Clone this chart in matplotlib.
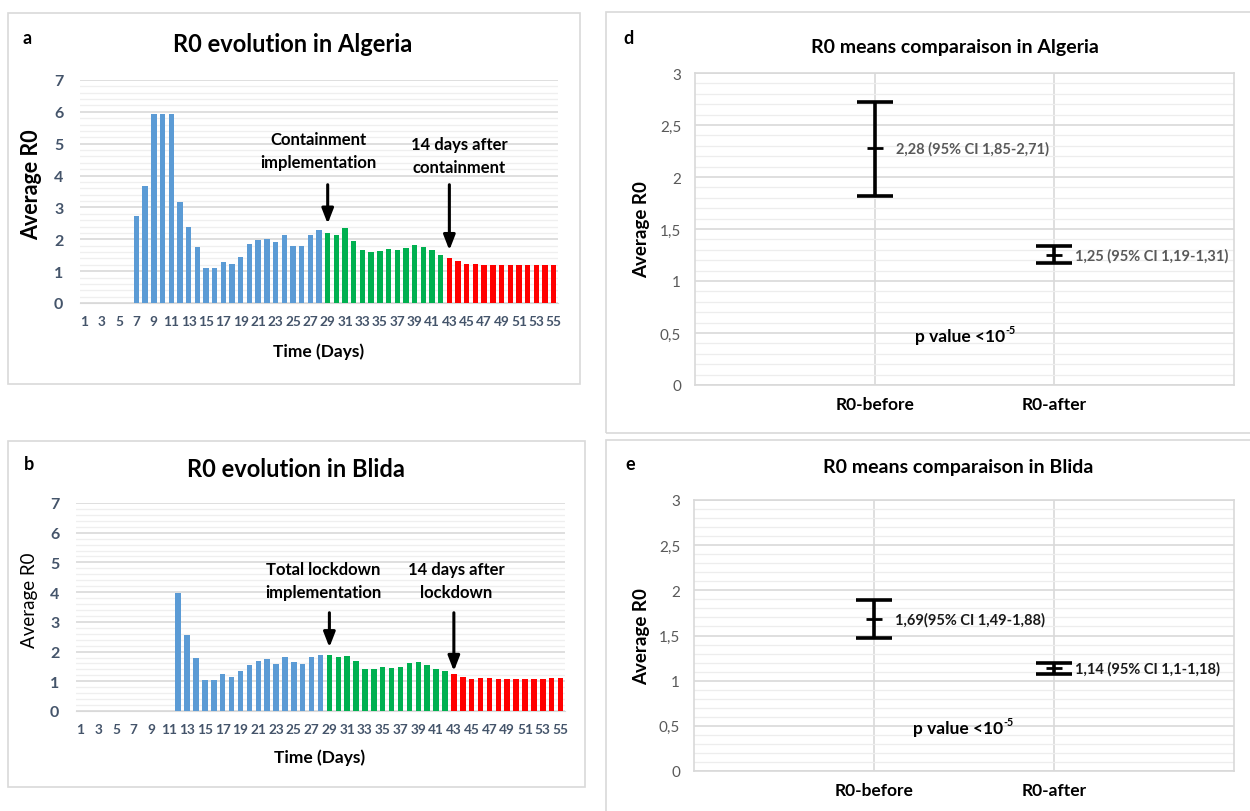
import matplotlib
matplotlib.use("Agg")
import matplotlib.pyplot as plt
import numpy as np
from matplotlib.patches import Rectangle
from matplotlib.ticker import MultipleLocator

plt.rcParams["font.family"] = ["Lato", "DejaVu Sans"]

# -----------------------------
# DATA
# -----------------------------
days = list(range(1, 56))

algeria_r0 = [0, 0, 0, 0, 0, 0, 2.73, 3.68, 5.93, 5.93, 5.93, 3.17, 2.39, 1.75,
              1.09, 1.09, 1.28, 1.22, 1.45, 1.85, 1.99, 2.01, 1.91, 2.12, 1.78,
              1.80, 2.12, 2.30, 2.19, 2.12, 2.35, 1.95, 1.66, 1.60, 1.63, 1.70,
              1.66, 1.73, 1.81, 1.75, 1.66, 1.52, 1.41, 1.32, 1.23, 1.23, 1.20,
              1.20, 1.20, 1.19, 1.19, 1.19, 1.19, 1.19, 1.19]

blida_r0 = [0, 0, 0, 0, 0, 0, 0, 0, 0, 0, 0, 3.97, 2.56, 1.80, 1.04, 1.04, 1.25,
            1.16, 1.36, 1.56, 1.67, 1.76, 1.58, 1.82, 1.65, 1.58, 1.82, 1.89,
            1.87, 1.82, 1.84, 1.67, 1.42, 1.42, 1.49, 1.46, 1.49, 1.61, 1.65,
            1.56, 1.42, 1.34, 1.24, 1.16, 1.08, 1.11, 1.11, 1.08, 1.08, 1.08,
            1.08, 1.08, 1.08, 1.11, 1.11]

# periods: before containment, containment, 14 days after
period_start = [1, 29, 43]
period_colors = ["#5B9BD5", "#00B050", "#FF0000"]

groups = ["R0-before", "R0-after"]
alg_mean = [2.28, 1.25]
alg_low = [1.82, 1.17]
alg_high = [2.72, 1.34]
alg_labels = ["2,28 (95% CI 1,85-2,71)", "1,25 (95% CI 1,19-1,31)"]

bli_mean = [1.68, 1.14]
bli_low = [1.47, 1.07]
bli_high = [1.89, 1.20]
bli_labels = ["1,69(95% CI 1,49-1,88)", "1,14 (95% CI 1,1-1,18)"]

W, H = 1250, 812
fig = plt.figure(figsize=(W / 100, H / 100), dpi=100)


def px_rect(l, t, r, b):
    return [l / W, 1 - b / H, (r - l) / W, (b - t) / H]


def fx(x):
    return x / W


def fy(y):
    return 1 - y / H


def box(l, t, r, b):
    fig.patches.append(Rectangle((fx(l), fy(b)), (r - l) / W, (b - t) / H,
                                 transform=fig.transFigure, fill=False,
                                 edgecolor="#D9D9D9", lw=1.2))


def bar_colors(n):
    cols = []
    for d in days[:n]:
        c = period_colors[0]
        for s, col in zip(period_start, period_colors):
            if d >= s:
                c = col
        cols.append(c)
    return cols


def p_value(ax, x, y, size):
    t = ax.text(x, y, "p value <10", transform=fig.transFigure, fontsize=size,
                fontweight="bold", ha="center", va="center")
    ax.annotate("-5", xy=(1.0, 0.55), xycoords=t, fontsize=size * 0.62,
                fontweight="bold", ha="left", va="bottom", annotation_clip=False)


def bar_panel(rect, values, title, title_xy, letter_xy, letter, ylab, ylab_x,
              ylab_bold, ylab_size, xlab_y, notes):
    ax = fig.add_axes(px_rect(*rect))
    ax.bar(days, values, width=0.62, color=bar_colors(len(values)), zorder=3)
    ax.set_xlim(0.5, 55.5)
    ax.set_ylim(0, 7)
    ax.yaxis.set_major_locator(MultipleLocator(1))
    ax.yaxis.set_minor_locator(MultipleLocator(0.2))
    ax.grid(which="major", axis="y", color="#D9D9D9", lw=1.2, zorder=0)
    ax.grid(which="minor", axis="y", color="#EFEFEF", lw=0.9, zorder=0)
    ax.set_xticks(days[::2])
    for s in ["top", "right", "left"]:
        ax.spines[s].set_visible(False)
    ax.spines["bottom"].set_color("#D9D9D9")
    ax.tick_params(which="both", length=0)
    ax.tick_params(axis="x", pad=9)
    ax.tick_params(axis="y", pad=12)
    for lab in ax.get_xticklabels():
        lab.set_fontsize(9.8)
        lab.set_fontweight("bold")
        lab.set_color("#44546A")
    for lab in ax.get_yticklabels():
        lab.set_fontsize(11.5)
        lab.set_fontweight("bold")
        lab.set_color("#44546A")
    fig.text(fx(title_xy[0]), fy(title_xy[1]), title, fontsize=17,
             fontweight="bold", ha="center", va="center")
    fig.text(fx(letter_xy[0]), fy(letter_xy[1]), letter, fontsize=13,
             fontweight="bold", ha="center", va="center")
    fig.text(fx(ylab_x), fy((rect[1] + rect[3]) / 2 - 8), ylab, rotation=90,
             fontsize=ylab_size, fontweight="bold" if ylab_bold else "normal",
             ha="center", va="center")
    fig.text(fx(xlab_y[0]), fy(xlab_y[1]), "Time (Days)", fontsize=12.5,
             fontweight="bold", ha="center", va="center")
    for txt, tx, ty, ax_x, y0, y1 in notes:
        ax.annotate("", xy=(ax_x, y1), xytext=(ax_x, y0),
                    arrowprops=dict(arrowstyle="-|>,head_width=0.35,head_length=0.9",
                                    color="black", lw=2.2), zorder=5)
        ax.text(tx, ty, txt, fontsize=12, fontweight="bold", ha="center",
                va="center", linespacing=1.55, zorder=5)
    return ax


# ---- panel a ----
box(8, 14, 580, 385)
bar_panel((80, 81, 558, 304), algeria_r0, "R0 evolution in Algeria", (293, 45),
          (27, 39), "a", "Average R0", 32, True, 15.5, (319, 352),
          [("Containment\nimplementation", 27.9, 4.8, 29, 3.8, 2.4),
           ("14 days after\ncontainment", 44.1, 4.62, 43, 3.8, 1.57)])

# ---- panel b ----
box(8, 442, 585, 788)
bar_panel((76, 504, 565, 712), blida_r0, "R0 evolution in Blida", (296, 470),
          (29, 465), "b", "Average R0", 30, False, 13.5, (320, 758),
          [("Total lockdown\nimplementation", 28.3, 4.4, 29, 3.4, 2.05),
           ("14 days after\nlockdown", 43.3, 4.4, 43, 3.4, 1.25)])


def ci_panel(rect, mean, low, high, labels, lab_color, title, title_xy,
             letter_xy, letter, ylab_x, p_xy):
    ax = fig.add_axes(px_rect(*rect))
    x = np.arange(1, len(groups) + 1)
    mean = np.array(mean)
    err = [mean - np.array(low), np.array(high) - mean]
    ax.errorbar(x, mean, yerr=err, fmt="none", ecolor="black", elinewidth=2.6,
                capsize=13, capthick=2.6, zorder=4)
    ax.plot(x, mean, ls="none", marker="_", ms=12, mew=2, color="black",
            zorder=5)
    for xi, m, lab in zip(x, mean, labels):
        ax.annotate(lab, (xi, m), xytext=(15, 0), textcoords="offset points",
                    fontsize=10.5, fontweight="bold", color=lab_color,
                    ha="left", va="center", zorder=6)
    ax.set_xlim(0, 3)
    ax.set_ylim(0, 3)
    ax.set_xticks(x)
    ax.set_xticklabels(groups)
    ax.yaxis.set_major_locator(MultipleLocator(0.5))
    ax.yaxis.set_minor_locator(MultipleLocator(0.1))
    ax.yaxis.set_major_formatter(
        plt.FuncFormatter(lambda v, p: f"{v:g}".replace(".", ",")))
    ax.grid(which="major", color="#D9D9D9", lw=1.2, zorder=0)
    ax.grid(which="minor", axis="y", color="#EDEDED", lw=0.9, zorder=0)
    for s in ax.spines.values():
        s.set_color("#D9D9D9")
        s.set_linewidth(1.2)
    ax.tick_params(which="both", length=0)
    ax.tick_params(axis="x", pad=8)
    ax.tick_params(axis="y", pad=10)
    for lab in ax.get_yticklabels():
        lab.set_fontsize(11)
        lab.set_color("#595959")
    for lab in ax.get_xticklabels():
        lab.set_fontsize(12.5)
        lab.set_fontweight("bold")
    fig.text(fx(title_xy[0]), fy(title_xy[1]), title, fontsize=14,
             fontweight="bold", ha="center", va="center")
    fig.text(fx(letter_xy[0]), fy(letter_xy[1]), letter, fontsize=13,
             fontweight="bold", ha="center", va="center")
    fig.text(fx(ylab_x), fy((rect[1] + rect[3]) / 2), "Average R0",
             rotation=90, fontsize=13.5, fontweight="bold", ha="center",
             va="center")
    p_value(ax, fx(p_xy[0]), fy(p_xy[1]), 12.5)
    return ax


# ---- panel d ----
box(606, 13, 1262, 434)
ci_panel((695, 74, 1234, 386), alg_mean, alg_low, alg_high, alg_labels,
         "#595959", "R0 means comparaison in Algeria", (955, 47), (628, 38),
         "d", 642, (960, 337))

# ---- panel e ----
box(606, 441, 1262, 830)
ci_panel((694, 501, 1234, 772), bli_mean, bli_low, bli_high, bli_labels,
         "#1A1A1A", "R0 means comparaison in Blida", (958, 467), (630, 465),
         "e", 642, (958, 729))

fig.savefig("out.png", dpi=100)
